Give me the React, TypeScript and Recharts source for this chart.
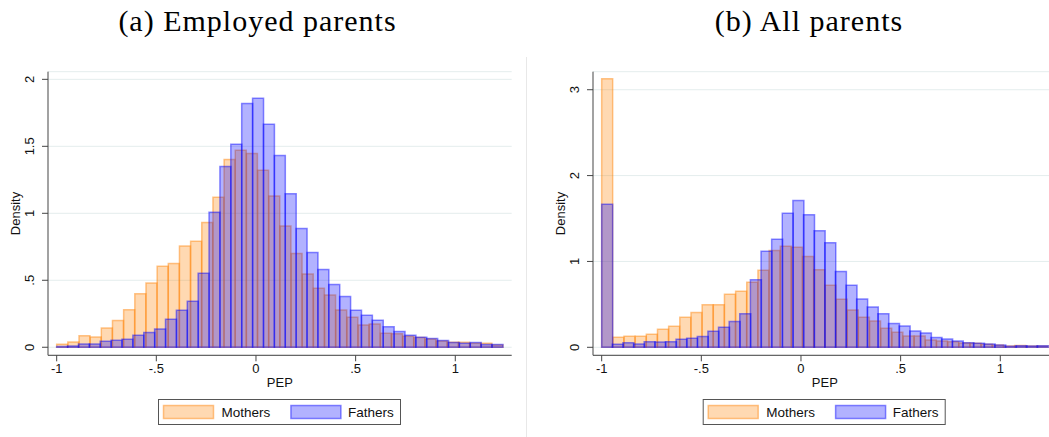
import { ComposedChart, Bar, XAxis, YAxis, CartesianGrid, Label } from 'recharts';

// Histogram densities of PEP, one value per bin; every histogram starts at -1
const MOTHERS_EMPLOYED = [
  0.022, 0.04, 0.085, 0.077, 0.144, 0.2, 0.28, 0.4, 0.48, 0.605,
  0.626, 0.756, 0.792, 0.932, 1.12, 1.402, 1.47, 1.447, 1.322, 1.13,
  0.905, 0.7, 0.547, 0.44, 0.39, 0.279, 0.224, 0.166, 0.173, 0.104,
  0.1, 0.082, 0.073, 0.061, 0.047, 0.038, 0.038, 0.03, 0.03, 0.016,
];
const FATHERS_EMPLOYED = [
  0.005, 0.01, 0.025, 0.025, 0.044, 0.052, 0.06, 0.09, 0.111, 0.137,
  0.21, 0.276, 0.343, 0.552, 1.007, 1.35, 1.515, 1.82, 1.858, 1.664,
  1.432, 1.146, 0.886, 0.707, 0.581, 0.469, 0.378, 0.277, 0.239, 0.202,
  0.154, 0.118, 0.089, 0.075, 0.065, 0.051, 0.035, 0.03, 0.036, 0.02, 0.021,
];
const MOTHERS_ALL = [
  3.128, 0.117, 0.128, 0.128, 0.152, 0.21, 0.245, 0.35, 0.405, 0.496,
  0.496, 0.618, 0.654, 0.757, 0.897, 1.128, 1.178, 1.165, 1.058, 0.903,
  0.724, 0.56, 0.436, 0.35, 0.307, 0.222, 0.175, 0.132, 0.132, 0.086,
  0.074, 0.066, 0.05, 0.047, 0.035, 0.027, 0.016, 0.02, 0.016, 0.016,
];
const FATHERS_ALL = [
  1.665, 0.035, 0.054, 0.039, 0.066, 0.062, 0.066, 0.093, 0.105, 0.125,
  0.186, 0.233, 0.3, 0.39, 0.788, 1.12, 1.26, 1.56, 1.71, 1.545,
  1.358, 1.218, 0.883, 0.724, 0.564, 0.47, 0.39, 0.276, 0.249, 0.19,
  0.167, 0.113, 0.097, 0.074, 0.054, 0.047, 0.039, 0.027, 0.012, 0.019, 0.016, 0.019,
];

const BIN_START = -1;
const BIN_WIDTH_MOTHERS_EMPLOYED = 0.056;
const BIN_WIDTH_FATHERS_EMPLOYED = 0.0546;
const BIN_WIDTH_MOTHERS_ALL = 0.056;
const BIN_WIDTH_FATHERS_ALL = 0.0533;

const SERIES_NAMES = ['Mothers', 'Fathers'];
const PANEL_TITLES = ['(a) Employed parents', '(b) All parents'];
const X_TICKS = [-1, -0.5, 0, 0.5, 1];
const Y_TICKS_EMPLOYED = [0, 0.5, 1, 1.5, 2];
const Y_TICKS_ALL = [0, 1, 2, 3];

const X_DOMAIN = [-1.0435, 1.283];
const Y_DOMAIN_EMPLOYED = [-0.06, 2.057];
const Y_DOMAIN_ALL = [-0.093, 3.21];

const MOTHERS_COLOR = '#ff8000';
const FATHERS_COLOR = '#0000ff';
const AXIS_COLOR = '#444';
const SANS = '"Liberation Sans", Arial, sans-serif';
const SERIF = '"Liberation Serif", "Times New Roman", serif';

// Stata-style labels: drop the leading zero
const fmt = (v: number) => (v === 0 ? '0' : String(v).replace(/^(-?)0\./, '$1.'));

function buildBins(mothers: number[], fathers: number[], wM: number, wF: number) {
  const n = Math.max(mothers.length, fathers.length);
  return Array.from({ length: n }, (_, i) => ({
    mx: BIN_START + (i + 0.5) * wM,
    m: i < mothers.length ? mothers[i] : null,
    fx: BIN_START + (i + 0.5) * wF,
    f: i < fathers.length ? fathers[i] : null,
  }));
}

const employedBins = buildBins(MOTHERS_EMPLOYED, FATHERS_EMPLOYED, BIN_WIDTH_MOTHERS_EMPLOYED, BIN_WIDTH_FATHERS_EMPLOYED);
const allBins = buildBins(MOTHERS_ALL, FATHERS_ALL, BIN_WIDTH_MOTHERS_ALL, BIN_WIDTH_FATHERS_ALL);

const verticalTick = (props: any) => {
  const { y, payload } = props;
  return (
    <text x={34} y={y} transform={`rotate(-90 34 ${y})`} textAnchor="middle" fill="#111" fontSize={13} fontFamily={SANS}>
      {fmt(payload.value)}
    </text>
  );
};

const densityLabel = (props: any) => {
  const vb = props.viewBox;
  const cy = vb.y + vb.height / 2;
  return (
    <text x={20.5} y={cy} transform={`rotate(-90 20.5 ${cy})`} textAnchor="middle" fill="#111" fontSize={13} fontFamily={SANS}>
      Density
    </text>
  );
};

const pepLabel = (props: any) => {
  const vb = props.viewBox;
  return (
    <text x={vb.x + vb.width / 2} y={vb.y + 32} textAnchor="middle" fill="#111" fontSize={13} fontFamily={SANS}>
      PEP
    </text>
  );
};

function Histogram({ left, data, yDomain, yTicks }: { left: number; data: any[]; yDomain: number[]; yTicks: number[] }) {
  return (
    <div style={{ position: 'absolute', left, top: 60 }}>
      <ComposedChart
        width={530}
        height={335.3}
        data={data}
        margin={{ top: 11.7, right: 18.3, bottom: 0, left: 0 }}
        barCategoryGap={0}
        barGap={0}
      >
        <CartesianGrid xAxisId="m" vertical={false} stroke="#e4eded" />
        <XAxis
          xAxisId="m"
          dataKey="mx"
          type="number"
          domain={X_DOMAIN}
          ticks={X_TICKS}
          interval={0}
          allowDataOverflow
          tickFormatter={fmt}
          tickSize={6}
          height={40}
          stroke={AXIS_COLOR}
          tick={{ fill: '#111', fontSize: 13, fontFamily: SANS }}
        >
          <Label content={pepLabel} />
        </XAxis>
        <XAxis xAxisId="f" dataKey="fx" type="number" domain={X_DOMAIN} allowDataOverflow hide height={0} />
        <YAxis
          type="number"
          domain={yDomain}
          ticks={yTicks}
          interval={0}
          allowDataOverflow
          width={48}
          tickSize={6}
          stroke={AXIS_COLOR}
          tick={verticalTick}
        >
          <Label content={densityLabel} />
        </YAxis>
        <Bar
          xAxisId="m"
          dataKey="m"
          name={SERIES_NAMES[0]}
          fill={MOTHERS_COLOR}
          fillOpacity={0.3}
          stroke={MOTHERS_COLOR}
          strokeOpacity={0.45}
          strokeWidth={1.5}
          isAnimationActive={false}
        />
        <Bar
          xAxisId="f"
          dataKey="f"
          name={SERIES_NAMES[1]}
          fill={FATHERS_COLOR}
          fillOpacity={0.3}
          stroke={FATHERS_COLOR}
          strokeOpacity={0.45}
          strokeWidth={1.5}
          isAnimationActive={false}
        />
      </ComposedChart>
    </div>
  );
}

function LegendBox({ x }: { x: number }) {
  const colors = [MOTHERS_COLOR, FATHERS_COLOR];
  return (
    <g>
      <rect x={x + 0.5} y={399.5} width={242} height={25} fill="#fff" stroke="#555" />
      {SERIES_NAMES.map((name, i) => (
        <g key={name}>
          <rect
            x={x + 5.5 + i * 127.4}
            y={405.5}
            width={50}
            height={13}
            fill={colors[i]}
            fillOpacity={0.3}
            stroke={colors[i]}
            strokeOpacity={0.45}
            strokeWidth={1.5}
          />
          <text x={x + 63.5 + i * 126.5} y={417} fontSize={13.5} fill="#111" fontFamily={SANS}>
            {name}
          </text>
        </g>
      ))}
    </g>
  );
}

export default function App() {
  return (
    <div style={{ position: 'absolute', left: 0, top: 0, width: 1049, height: 437, overflow: 'hidden', background: '#fff' }}>
      <svg width={1049} height={437} style={{ position: 'absolute', left: 0, top: 0 }}>
        <text x={257.5} y={31} textAnchor="middle" fontSize={30} letterSpacing={1} fill="#000" fontFamily={SERIF}>
          {PANEL_TITLES[0]}
        </text>
        <text x={809} y={31} textAnchor="middle" fontSize={30} letterSpacing={1} fill="#000" fontFamily={SERIF}>
          {PANEL_TITLES[1]}
        </text>
        <line x1={526.5} y1={57} x2={526.5} y2={437} stroke="#e8e8e8" />
        <LegendBox x={158} />
        <LegendBox x={702.7} />
      </svg>
      <Histogram left={0} data={employedBins} yDomain={Y_DOMAIN_EMPLOYED} yTicks={Y_TICKS_EMPLOYED} />
      <Histogram left={544.7} data={allBins} yDomain={Y_DOMAIN_ALL} yTicks={Y_TICKS_ALL} />
    </div>
  );
}
